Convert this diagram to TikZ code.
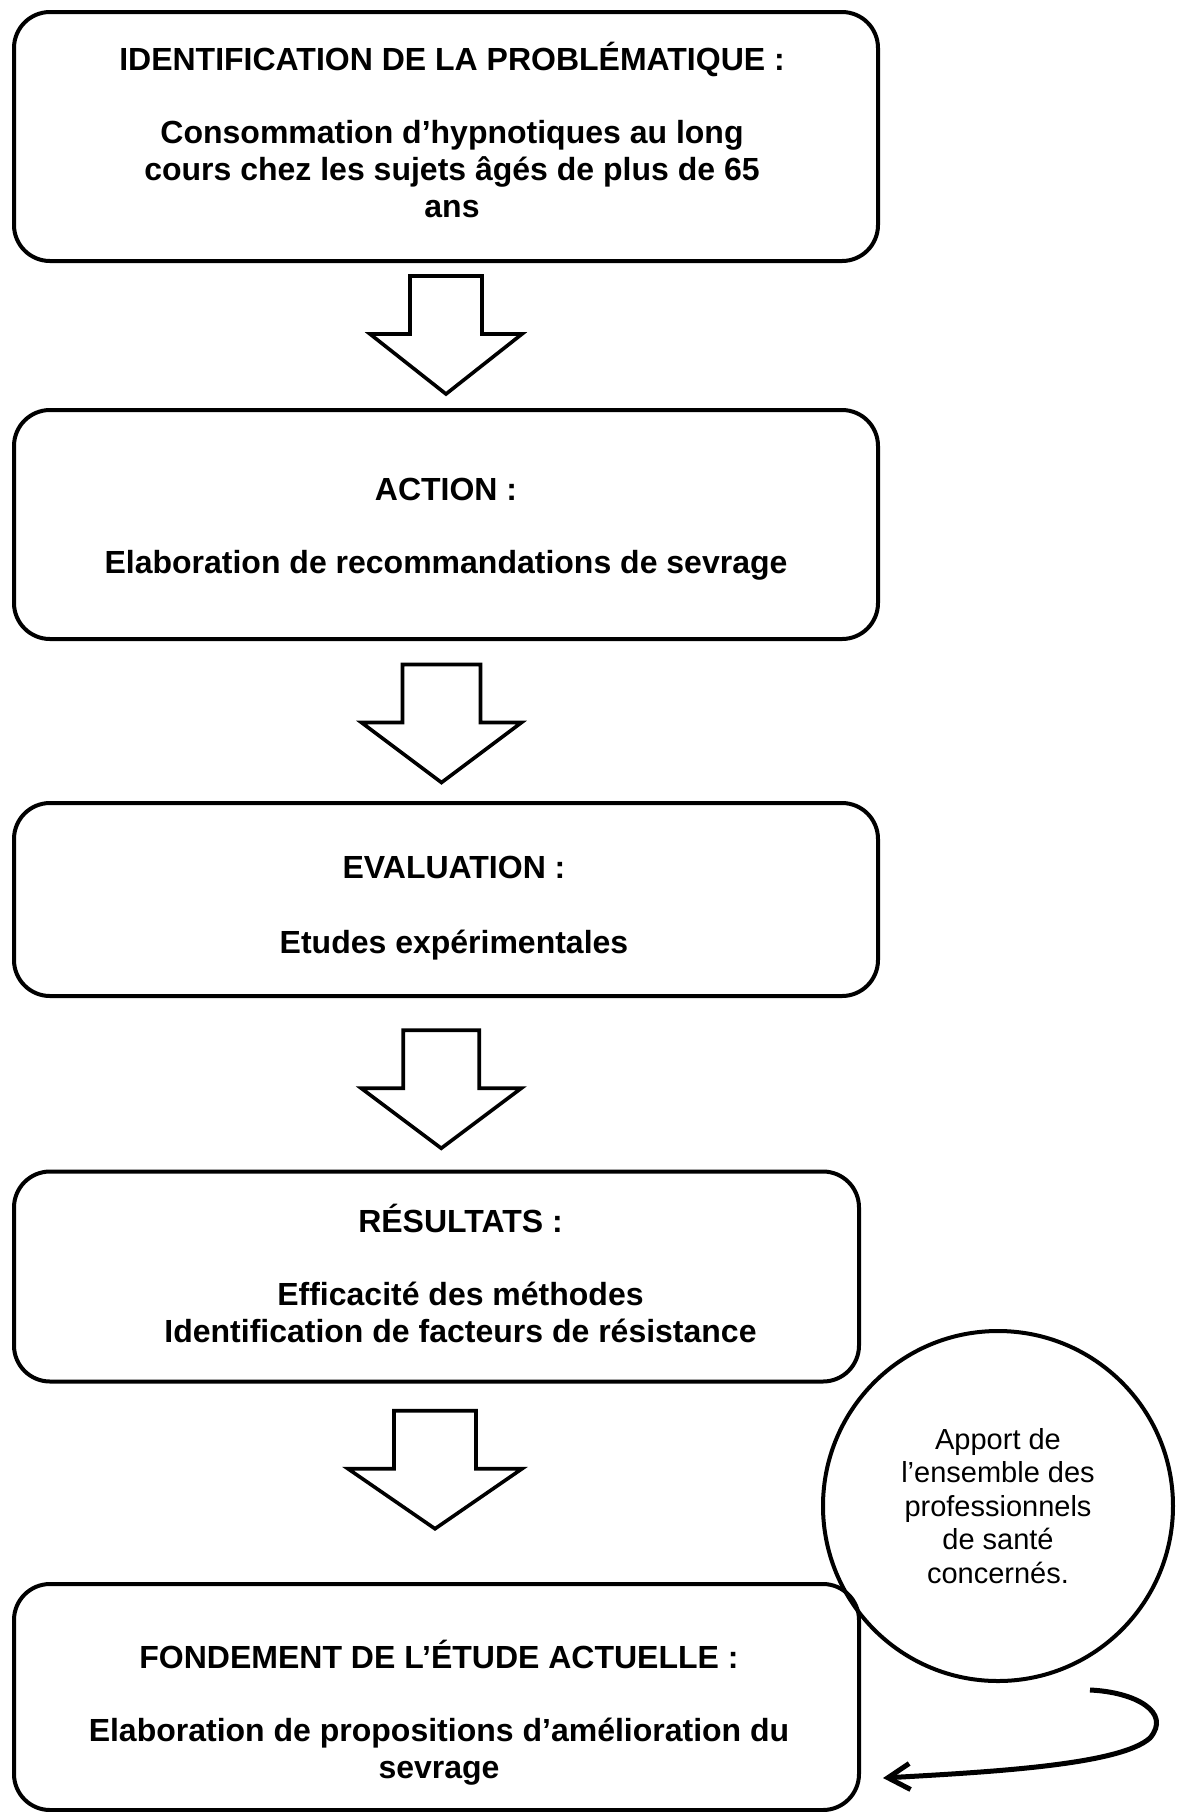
\documentclass[tikz,border=0pt]{standalone}
\usepackage{fontspec}
\setmainfont{Liberation Sans}
\usetikzlibrary{arrows.meta,positioning,calc}

\newcommand{\flecheBas}[3]{%
  \draw[fleche] ($(#1)+(-#2,-58)$) -- ($(#1)+(#2,-58)$) -- ($(#1)+(#2,0)$) -- ($(#1)+(#3,0)$)
    -- ($(#1)+(0,60)$) -- ($(#1)+(-#3,0)$) -- ($(#1)+(-#2,0)$) -- cycle;}

\begin{document}
\begin{tikzpicture}[x=0.5pt,y=-0.5pt,
    boite/.style={draw, line width=2pt, rounded corners=18pt, inner sep=0pt},
    texte/.style={align=center, inner sep=0pt, font=\bfseries\fontsize{16}{18.5}\selectfont},
    fleche/.style={draw, line width=1.8pt, fill=white, line join=miter},
    bulle/.style={draw, circle, line width=2pt, align=center, inner sep=0pt, minimum size=175pt,
        font=\fontsize{14.5}{16.8}\selectfont},
    retour/.style={line width=2.5pt, -{Straight Barb[length=11pt,width=13pt]}}]

    \useasboundingbox (0,0) rectangle (1179,1812);

    \node[boite, minimum width=432pt, minimum height=124.5pt] (probleme) at (446,136.5) {};
    \node[boite, minimum width=432pt, minimum height=114.5pt] (action) at (446,524.5) {};
    \node[boite, minimum width=432pt, minimum height=96.5pt] (evaluation) at (446,899.5) {};
    \node[boite, minimum width=422.5pt, minimum height=105pt] (resultats) at (436.5,1276.5) {};
    \node[boite, minimum width=422.5pt, minimum height=113pt] (fondement) at (436.5,1697) {};

    % textes des etapes
    \node[texte] (probleme-txt) at ($(probleme)+(6,-7)$)
        {IDENTIFICATION DE LA PROBLÉMATIQUE :\\[18pt]
         Consommation d’hypnotiques au long\\ cours chez les sujets âgés de plus de 65\\ ans};
    \node[texte] (action-txt) at ($(action)+(0,4.5)$)
        {ACTION :\\[18pt] Elaboration de recommandations de sevrage};
    \node[texte] (evaluation-txt) at ($(evaluation)+(8,9)$)
        {EVALUATION :\\[19pt] Etudes expérimentales};
    \node[texte] (resultats-txt) at ($(resultats)+(24,-3)$)
        {RÉSULTATS :\\[18pt] Efficacité des méthodes\\ Identification de facteurs de résistance};
    \node[texte] (fondement-txt) at ($(fondement)+(2.5,15.5)$)
        {FONDEMENT DE L’ÉTUDE ACTUELLE :\\[18pt]
         Elaboration de propositions d’amélioration du\\ sevrage};

    % grosses fleches entre les etapes
    \coordinate (f1) at ($(probleme.south)!0.5!(action.north)+(0,-1.5)$);
    \coordinate (f2) at ($(action.south)!0.5!(evaluation.north)+(-4.5,1.5)$);
    \coordinate (f3) at ($(evaluation.south)!0.5!(resultats.north)+(0,4.5)$);
    \coordinate (f4) at ($(resultats.south)!0.5!(fondement.north)+(-1.5,-14)$);
    \flecheBas{f1}{36}{76}
    \flecheBas{f2}{39}{80}
    \flecheBas{f3}{38}{80}
    \flecheBas{f4}{41}{87}

    \node[bulle] (apport) at (998,1506)
        {Apport de\\ l’ensemble des\\ professionnels\\ de santé\\ concernés.};

    \coordinate (depart) at (1090,1690);
    \coordinate (arrivee) at ([xshift=11pt,yshift=-40.5pt]fondement.east);
    \draw[retour] (depart) .. controls (1135,1692) and (1172,1712) .. (1150,1738)
        .. controls (1120,1765) and (990,1772) .. (arrivee);
\end{tikzpicture}
\end{document}
